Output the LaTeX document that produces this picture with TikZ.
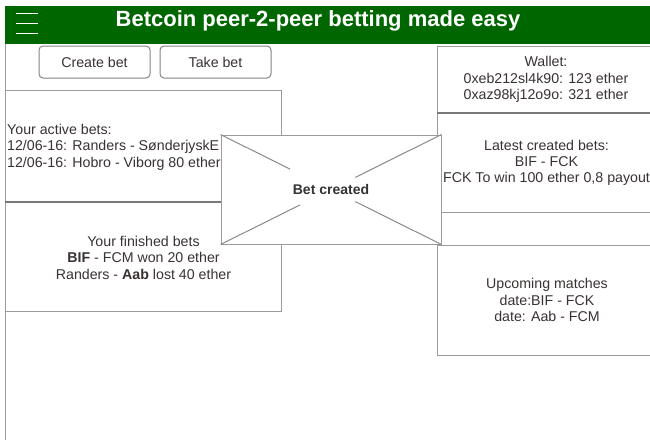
\documentclass[tikz,border=0pt]{standalone}
\usepackage{fontspec}
\setmainfont{Liberation Sans}
\usetikzlibrary{calc}
\definecolor{barGreen}{RGB}{0,102,0}
\definecolor{ink}{RGB}{58,50,50}
\definecolor{frame}{RGB}{155,155,155}
\definecolor{heavyrule}{RGB}{120,120,120}
\begin{document}
\begin{tikzpicture}[x=1pt,y=-1pt,
  panel/.style={draw=frame,line width=1pt,fill=white,rectangle,inner sep=0pt},
  button/.style={draw=frame!85!black,line width=1pt,fill=white,rounded corners=4pt,
    inner sep=0pt,minimum width=111pt,minimum height=32pt,
    font=\fontsize{14.2}{17}\selectfont,text=ink},
  line/.style={font=\fontsize{14.2}{17}\selectfont,text=ink,inner sep=0pt,anchor=base},
  lline/.style={line,anchor=base west},
  diag/.style={draw=frame!90!black,line width=1pt},
  heavy/.style={draw=heavyrule,line width=2pt}]
\useasboundingbox (0,0) rectangle (650,439);
\fill[white] (0,0) rectangle (650,439);

% header bar with menu icon and title
\fill[barGreen] (5,6) rectangle (652,44);
\foreach \yy in {13.3,23.3,33.3}
  \draw[white,line width=1pt] (16,\yy) -- (38,\yy);
\node[inner sep=0pt,anchor=base,text=white,font=\fontsize{22}{26}\selectfont\bfseries]
  (title) at (318,26.7) {Betcoin peer-2-peer betting made easy};

% page frame on the left
\coordinate (frameTop) at (5,44);
\coordinate (frameBot) at (5,445);
\draw[frame,line width=1pt] (frameTop) -- (frameBot);

% buttons
\node[button] (create) at (94.5,62) {Create bet};
\node[button] (take) at (215.5,62) {Take bet};

% left panels
\node[panel,minimum width=276pt,minimum height=111pt] (active) at (143,145.5) {};
\node[panel,minimum width=276pt,minimum height=110pt] (finished) at (143,256) {};
\draw[heavy] (active.south west) -- (active.south east);

% right panels
\node[panel,minimum width=220pt,minimum height=66pt] (wallet) at (547,79) {};
\node[panel,minimum width=220pt,minimum height=100pt] (latest) at (547,162) {};
\node[panel,minimum width=220pt,minimum height=33pt] (spare) at (547,228.5) {};
\node[panel,minimum width=220pt,minimum height=110pt] (upcoming) at (547,300) {};
\draw[heavy] (wallet.south west) -- (wallet.south east);

% panel texts
\node[lline] (act1) at (7,134) {Your active bets:};
\node[lline] (act2) at (7,150.5) {12/06-16: Randers - SønderjyskE};
\node[lline] (act3) at (7,167) {12/06-16: Hobro - Viborg 80 ether};

\node[line] (fin1) at (143.5,246) {Your finished bets};
\node[line] (fin2) at (143.5,262.5) {\textbf{BIF} - FCM won 20 ether};
\node[line] (fin3) at (143.5,279) {Randers - \textbf{Aab} lost 40 ether};

\node[line] (wal1) at (546,66.5) {Wallet:};
\node[line] (wal2) at (546,83) {0xeb212sl4k90: 123 ether};
\node[line] (wal3) at (546,99.5) {0xaz98kj12o9o: 321 ether};

\node[line] (lat1) at (546.5,150) {Latest created bets:};
\node[line] (lat2) at (546.5,166) {BIF - FCK};
\node[line] (lat3) at (546.5,182.5) {FCK To win 100 ether 0,8 payout};

\node[line] (up1) at (547,288.5) {Upcoming matches};
\node[line] (up2) at (547,305) {date:BIF - FCK};
\node[line] (up3) at (547,321.5) {date: Aab - FCM};

% "Bet created" overlay
\node[panel,minimum width=220pt,minimum height=109pt] (popup) at (331,189.5) {};
\draw[diag] (popup.north west) -- ($(popup.north west)!0.63!(popup.center)$);
\draw[diag] (popup.north east) -- ($(popup.north east)!0.78!(popup.center)$);
\draw[diag] (popup.south west) -- ($(popup.south west)!0.72!(popup.center)$);
\draw[diag] (popup.south east) -- ($(popup.south east)!0.78!(popup.center)$);
\node[line,font=\fontsize{14}{17}\selectfont\bfseries,text=black!80] (popupText) at (331,194) {Bet created};
\end{tikzpicture}
\end{document}
